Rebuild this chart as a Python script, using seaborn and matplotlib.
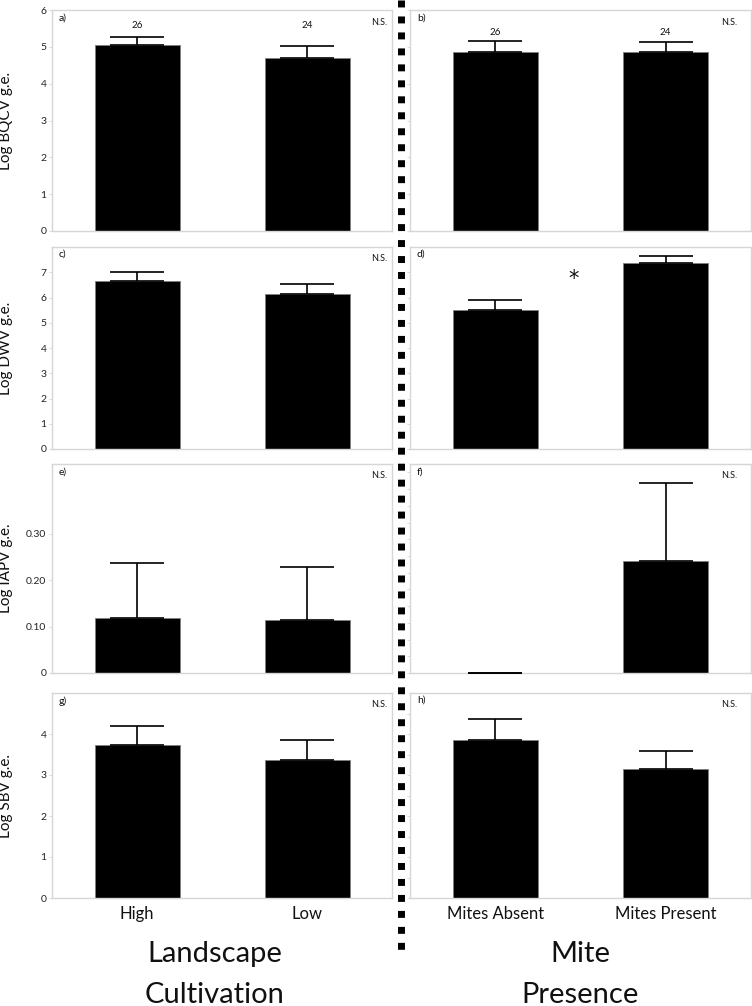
import numpy as np
import matplotlib
matplotlib.use('Agg')
import matplotlib.pyplot as plt
from matplotlib.lines import Line2D
import seaborn as sns

# Data
landscape = ['High', 'Low']
mites = ['Mites Absent', 'Mites Present']

bqcv_land = [5.05, 4.69]
bqcv_land_se = [0.21, 0.34]
bqcv_mite = [4.86, 4.86]
bqcv_mite_se = [0.29, 0.28]
bqcv_n = ['26', '24']

dwv_land = [6.64, 6.12]
dwv_land_se = [0.36, 0.43]
dwv_mite = [5.52, 7.37]
dwv_mite_se = [0.37, 0.26]

iapv_land = [0.118, 0.114]
iapv_land_se = [0.119, 0.114]
iapv_mite = [0.0, 0.241]
iapv_mite_se = [0.0, 0.169]

sbv_land = [3.73, 3.37]
sbv_land_se = [0.46, 0.49]
sbv_mite = [3.86, 3.15]
sbv_mite_se = [0.50, 0.44]

sns.set_theme(style='white')
plt.rcParams['font.family'] = ['Lato', 'DejaVu Sans']

W, H = 752, 1006
fig = plt.figure(figsize=(W / 100, H / 100), dpi=100)

# axes boxes in pixels: (left, right) per column, (top, bottom) per row
cols = [(52, 392), (410, 751)]
rows = [(10, 231), (247, 449), (464, 673), (693, 898)]

def make_ax(r, c):
    x0, x1 = cols[c]
    y0, y1 = rows[r]
    return fig.add_axes([x0 / W, 1 - y1 / H, (x1 - x0) / W, (y1 - y0) / H])

panels = [
    # (row, col, cats, vals, se, ylim, ticks, ticklabels, ylabel, letter)
    (0, 0, landscape, bqcv_land, bqcv_land_se, 6, np.arange(0, 7, 1), None, 'Log BQCV g.e.', 'a)'),
    (0, 1, mites, bqcv_mite, bqcv_mite_se, 6, np.arange(0, 7, 1), None, None, 'b)'),
    (1, 0, landscape, dwv_land, dwv_land_se, 8, np.arange(0, 8, 1), None, 'Log DWV g.e.', 'c)'),
    (1, 1, mites, dwv_mite, dwv_mite_se, 8, np.arange(0, 8, 1), None, None, 'd)'),
    (2, 0, landscape, iapv_land, iapv_land_se, 0.45, [0, 0.1, 0.2, 0.3], ['0', '0.10', '0.20', '0.30'], 'Log IAPV g.e.', 'e)'),
    (2, 1, mites, iapv_mite, iapv_mite_se, 0.45, np.arange(0, 0.45, 0.036), None, None, 'f)'),
    (3, 0, landscape, sbv_land, sbv_land_se, 5, np.arange(0, 5, 1), None, 'Log SBV g.e.', 'g)'),
    (3, 1, mites, sbv_mite, sbv_mite_se, 5, np.arange(0, 5, 0.5), None, None, 'h)'),
]

spine_col = '#d6d6d6'

for r, c, cats, vals, se, ytop, ticks, tlabels, ylab, letter in panels:
    ax = make_ax(r, c)
    sns.barplot(x=cats, y=vals, color='black', saturation=1, width=0.5,
                edgecolor='#808080', linewidth=0.6, ax=ax)
    ax.errorbar(np.arange(len(cats)), vals, yerr=[np.zeros(len(se)), se],
                fmt='none', ecolor='black', elinewidth=1.2, capsize=19.5,
                capthick=1.2, zorder=3)
    ax.set_xlim(-0.5, 1.5)
    ax.set_ylim(0, ytop)
    ax.set_yticks(ticks)
    for s in ax.spines.values():
        s.set_visible(True)
        s.set_color(spine_col)
        s.set_linewidth(1)
    ax.tick_params(axis='y', length=2, width=0.6, color=spine_col, pad=2,
                   labelsize=7.5, labelcolor='#222222', left=True)
    if c == 0:
        if tlabels is not None:
            ax.set_yticklabels(tlabels)
        ax.set_ylabel(ylab, fontsize=11, color='#111111')
        ax.yaxis.set_label_coords(-0.115, 0.5)
    else:
        ax.set_yticklabels([])
        ax.set_ylabel('')
    if r == 3:
        ax.tick_params(axis='x', length=0, pad=6, labelsize=12, labelcolor='#111111')
    else:
        ax.set_xticks([])
    ax.set_xlabel('')
    ax.text(0.02, 0.985, letter, transform=ax.transAxes, ha='left', va='top',
            fontsize=7.5, color='#111111')
    if not (r == 1 and c == 1):
        ax.text(0.985 if c == 0 else 0.96, 0.965, 'N.S.', transform=ax.transAxes,
                ha='right', va='top', fontsize=6.5, color='#111111')
    if r == 0:
        ny = 5.57 if c == 0 else 5.4
        for i, n in enumerate(bqcv_n):
            ax.text(i, ny, n, ha='center', va='center', fontsize=7, color='#111111')
    if r == 1 and c == 1:
        ax.text(0.46, 6.75, '*', ha='center', va='center', fontsize=15,
                color='#111111', family='DejaVu Sans')

# column titles
for xc, words in [(215, ['Landscape', 'Cultivation']), (580, ['Mite', 'Presence'])]:
    fig.text(xc / W, 1 - 962 / H, words[0], ha='center', va='baseline',
             fontsize=21, color='#111111')
    fig.text(xc / W, 1 - 1003 / H, words[1], ha='center', va='baseline',
             fontsize=21, color='#111111')

# dotted divider between the columns
fig.add_artist(Line2D([401 / W, 401 / W], [1.0, 1 - 950 / H], transform=fig.transFigure,
                      color='black', linewidth=5, dashes=(1.0, 1.3),
                      solid_capstyle='butt', dash_capstyle='butt'))

fig.savefig('out.png', dpi=100, facecolor='white')
